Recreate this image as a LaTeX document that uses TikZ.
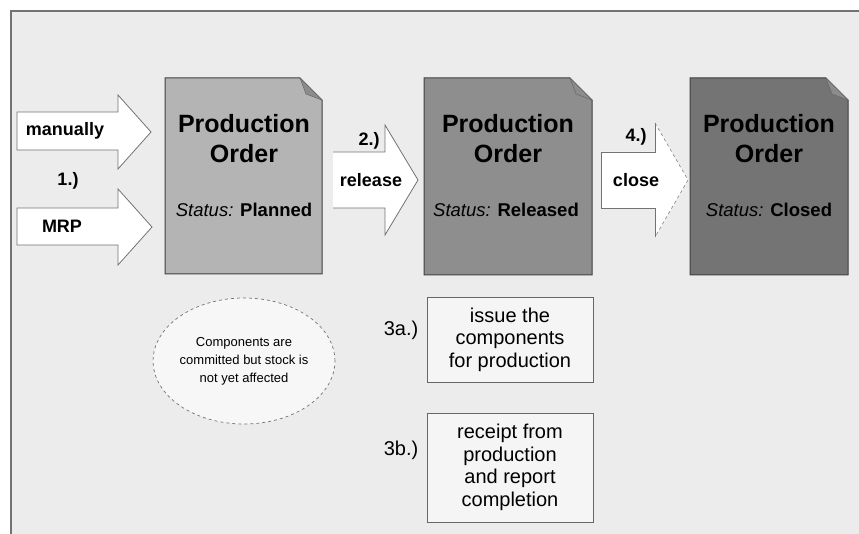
\documentclass[tikz,border=0pt]{standalone}
\usepackage{fontspec}
\setmainfont{Liberation Sans}
\usetikzlibrary{shapes.geometric}

\definecolor{panel}{HTML}{ECECEC}
\definecolor{planned}{HTML}{B4B4B4}
\definecolor{released}{HTML}{8E8E8E}
\definecolor{closed}{HTML}{747474}

\tikzset{
  docshape/.style={draw=black!75, line width=1pt},
  docflap/.style={fill=black!45, draw=black!60, line width=0.5pt},
  blockarrow/.style={draw=black!55, fill=white, line width=0.8pt},
  ordertitle/.style={font=\bfseries\fontsize{25}{30}\selectfont, align=center},
  orderstatus/.style={font=\fontsize{18.5}{22}\selectfont},
  arrowtext/.style={font=\bfseries\fontsize{18}{21}\selectfont},
  steptext/.style={font=\fontsize{20}{22}\selectfont},
  stepbox/.style={draw=black!60, fill=white!96!black, line width=0.8pt,
    minimum width=166pt, align=center, inner sep=2pt, font=\fontsize{20}{22.5}\selectfont},
  note/.style={ellipse, draw=black!55, dashed, line width=0.7pt, fill=white!97!black,
    minimum width=178pt, minimum height=126pt, inner sep=0pt, align=center,
    font=\fontsize{13}{18}\selectfont}
}

\begin{document}
\begin{tikzpicture}[x=1pt,y=-1pt]
\useasboundingbox (0,0) rectangle (859,534);
% frame
\fill[white] (0,0) rectangle (859,534);
\fill[panel] (11,11) rectangle (859,534);
\draw[black!55, line width=2.5pt] (11,534) -- (11,11) -- (859,11);

% order (planned)
\filldraw[docshape, fill=planned] (165,78) -- (300,78) -- (322,100) -- (322,274) -- (165,274) -- cycle;
\filldraw[docflap] (300,78) -- (322,100) -- (306,94) -- cycle;
\node[ordertitle] (planT) at (244,139) {Production\\Order};
\node[orderstatus] (planS) at (244,210) {\textit{Status:} \textbf{Planned}};

% order (released)
\filldraw[docshape, fill=released] (424,78) -- (570,78) -- (592,100) -- (592,275) -- (424,275) -- cycle;
\filldraw[docflap] (570,78) -- (592,100) -- (576,94) -- cycle;
\node[ordertitle] (relT) at (508,139) {Production\\Order};
\node[orderstatus] (relS) at (506,210) {\textit{Status:} \textbf{Released}};

% order (closed)
\filldraw[docshape, fill=closed] (690,78) -- (826,78) -- (848,100) -- (848,275) -- (690,275) -- cycle;
\filldraw[docflap] (826,78) -- (848,100) -- (832,94) -- cycle;
\node[ordertitle] (cloT) at (769,139) {Production\\Order};
\node[orderstatus] (cloS) at (769,210) {\textit{Status:} \textbf{Closed}};

% 1.) arrows
\filldraw[blockarrow] (17,112) -- (118,112) -- (118,95) -- (151,132) -- (118,169) -- (118,150) -- (17,150) -- cycle;
\node[arrowtext] (manually) at (65,131) {manually};
\node[arrowtext] (one) at (68,181) {1.)};
\filldraw[blockarrow] (17,208) -- (118,208) -- (118,189) -- (152,227) -- (118,265) -- (118,245) -- (17,245) -- cycle;
\node[arrowtext] (mrp) at (62,226) {MRP};

% 2.) release
\fill[white] (333,152) -- (385,152) -- (385,125) -- (418,180) -- (385,235) -- (385,208) -- (333,208) -- cycle;
\draw[blockarrow] (333,152) -- (385,152) -- (385,125) -- (418,180) -- (385,235) -- (385,208) -- (333,208);
\node[arrowtext] (two) at (369,141) {2.)};
\node[arrowtext] (release) at (371,180) {release};

% 4.) close
\fill[white] (601,152) -- (655,152) -- (655,123) -- (688,180) -- (655,237) -- (655,208) -- (601,208) -- cycle;
\draw[blockarrow] (655,123) -- (655,152) -- (601,152) -- (601,208) -- (655,208) -- (655,237);
\draw[black!50, dashed, line width=0.6pt] (655,123) -- (688,180) -- (655,237);
\node[arrowtext] (four) at (636,137) {4.)};
\node[arrowtext] (close) at (636,180) {close};

% note
\node[note] (note) at (244,361) {Components are\\committed but stock is\\not yet affected};

% 3a.) / 3b.)
\node[stepbox, minimum height=85pt] (issue) at (510,339.5) {issue the\\components\\for production};
\node[steptext] (threeA) at (401,330) {3a.)};
\node[stepbox, minimum height=109pt] (receipt) at (510,467.5) {receipt from\\production\\and report\\completion};
\node[steptext] (threeB) at (401,450) {3b.)};
\end{tikzpicture}
\end{document}
